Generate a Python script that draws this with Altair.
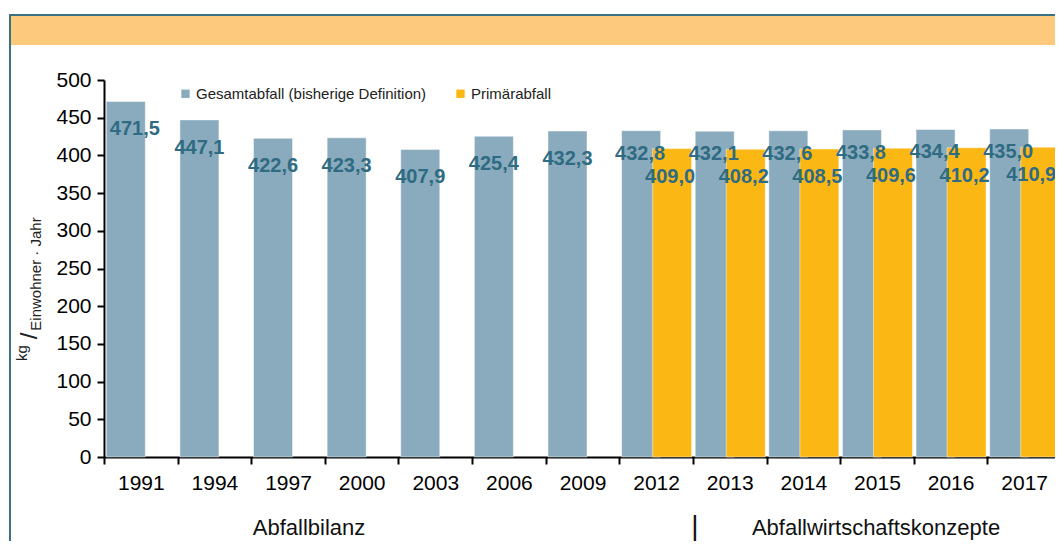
import altair as alt
import pandas as pd

years = ["1991", "1994", "1997", "2000", "2003", "2006", "2009",
         "2012", "2013", "2014", "2015", "2016", "2017"]
gesamt = [471.5, 447.1, 422.6, 423.3, 407.9, 425.4, 432.3,
          432.8, 432.1, 432.6, 433.8, 434.4, 435.0]
primaer_years = ["2012", "2013", "2014", "2015", "2016", "2017"]
primaer = [409.0, 408.2, 408.5, 409.6, 410.2, 410.9]
y_ticks = [0, 50, 100, 150, 200, 250, 300, 350, 400, 450, 500]

s_gesamt = "Gesamtabfall (bisherige Definition)"
s_primaer = "Primärabfall"


def fmt(v):
    return f"{v:.1f}".replace(".", ",")


df_g = pd.DataFrame({"year": years, "value": gesamt,
                     "label": [fmt(v) for v in gesamt],
                     "idx": list(range(len(years)))})
df_p = pd.DataFrame({"year": primaer_years, "value": primaer,
                     "label": [fmt(v) for v in primaer],
                     "idx": list(range(len(primaer_years)))})

W, H = 957, 377
FRAME = "#3b7285"
LABEL_C = "#2f6b82"
TICK_FONT = "Liberation Sans"
VAL_FONT = "Liberation Sans"

xscale = alt.Scale(paddingInner=0, paddingOuter=0)
yscale = alt.Scale(domain=[0, 500], nice=False)
cscale = alt.Scale(domain=[s_gesamt, s_primaer], range=["#8aabbd", "#fbb714"])

x_axis = alt.Axis(labelAngle=0, tickBand="extent", domainColor="black",
                  domainWidth=2, tickColor="black", tickWidth=2, tickSize=7,
                  labelFontSize=21, labelFont=TICK_FONT, labelColor="black",
                  labelPadding=8)
y_axis = alt.Axis(values=y_ticks, tickCount=11, grid=False, domainColor="black",
                  domainWidth=2, tickColor="black", tickWidth=2, tickSize=7,
                  labelFontSize=21, labelFont=TICK_FONT, labelColor="black",
                  labelPadding=6, labelOverlap=False, labelFlush=False)


def X():
    return alt.X("year:N", scale=xscale, sort=years, title=None, axis=x_axis)


def Y():
    return alt.Y("value:Q", scale=yscale, title=None, axis=y_axis)


legend = alt.Legend(title=None, orient="none", legendX=74, legendY=6, direction="horizontal",
                    symbolType="square", symbolSize=70, symbolStrokeWidth=0,
                    labelFontSize=15, labelFont=TICK_FONT, labelColor="#222222",
                    labelOffset=3, columnPadding=26, labelLimit=0)

# frame + header band
frame_df = pd.DataFrame({"a": [0]})
band = alt.Chart(frame_df).mark_rect(color="#fdca7d").encode(
    x=alt.value(-93), x2=alt.value(W + 2), y=alt.value(-64), y2=alt.value(-35))
left_line = alt.Chart(frame_df).mark_rule(color=FRAME, strokeWidth=2).encode(
    x=alt.value(-94), y=alt.value(-66), y2=alt.value(H + 100))
top_line = alt.Chart(frame_df).mark_rule(color=FRAME, strokeWidth=2).encode(
    x=alt.value(-95), x2=alt.value(W + 2), y=alt.value(-65))

bars_g = alt.Chart(df_g).mark_bar(width=39, xOffset=-15, stroke="white",
                                  strokeOpacity=0.45, strokeWidth=1).encode(
    x=X(), y=Y(),
    color=alt.Color("s:N", scale=cscale, legend=legend)
).transform_calculate(s=f"'{s_gesamt}'")

bars_p = alt.Chart(df_p).mark_bar(width=39, xOffset=16, stroke="white",
                                  strokeOpacity=0.45, strokeWidth=1).encode(
    x=X(), y=Y(),
    color=alt.Color("s:N", scale=cscale, legend=legend)
).transform_calculate(s=f"'{s_primaer}'")

txt_kw = dict(font=VAL_FONT, fontWeight="bold", fontSize=20, color=LABEL_C,
              baseline="middle", align="center")
lab_first = alt.Chart(df_g).mark_text(dx=-6, dy=28, **txt_kw).encode(
    x=X(), y=Y(), text="label:N"
).transform_filter("datum.idx == 0")
lab_early = alt.Chart(df_g).mark_text(dx=-15, dy=28, **txt_kw).encode(
    x=X(), y=Y(), text="label:N"
).transform_filter("datum.idx > 0 && datum.idx < 7")
lab_late = alt.Chart(df_g).mark_text(dx=-16, dy=23, **txt_kw).encode(
    x=X(), y=Y(), text="label:N"
).transform_filter("datum.idx >= 7")
lab_p = alt.Chart(df_p).mark_text(dx=14, dy=28, **txt_kw).encode(
    x=X(), y=Y(), text="label:N"
).transform_filter("datum.idx < 5")
lab_p_last = alt.Chart(df_p).mark_text(dx=7, dy=28, **txt_kw).encode(
    x=X(), y=Y(), text="label:N"
).transform_filter("datum.idx == 5")

# y-axis unit title
unit_kg = alt.Chart(pd.DataFrame({"t": ["kg"]})).mark_text(
    angle=270, fontSize=15, font=TICK_FONT, color="#222222", align="center",
    baseline="middle").encode(x=alt.value(-82), y=alt.value(273), text="t:N")
unit_sl = alt.Chart(pd.DataFrame({"t": ["/"]})).mark_text(
    angle=270, fontSize=24, font=TICK_FONT, color="#222222", align="center",
    baseline="middle").encode(x=alt.value(-74), y=alt.value(256), text="t:N")
unit_sub = alt.Chart(pd.DataFrame({"t": ["Einwohner · Jahr"]})).mark_text(
    angle=270, fontSize=15, font=TICK_FONT, color="#222222", align="center",
    baseline="middle").encode(x=alt.value(-68), y=alt.value(194), text="t:N")

# bottom group labels
bottom_kw = dict(fontSize=22, font=TICK_FONT, color="#111111", align="center",
                 baseline="middle")
b1 = alt.Chart(pd.DataFrame({"t": ["Abfallbilanz"]})).mark_text(**bottom_kw).encode(
    x=alt.value(205), y=alt.value(71 + H), text="t:N")
b2 = alt.Chart(pd.DataFrame({"t": ["|"]})).mark_text(fontSize=28, font=TICK_FONT,
                                                     color="#111111", align="center",
                                                     baseline="middle").encode(
    x=alt.value(591), y=alt.value(70 + H), text="t:N")
b3 = alt.Chart(pd.DataFrame({"t": ["Abfallwirtschaftskonzepte"]})).mark_text(**bottom_kw).encode(
    x=alt.value(772), y=alt.value(71 + H), text="t:N")

chart = alt.layer(
    band, left_line, top_line, bars_g, bars_p,
    lab_first, lab_early, lab_late, lab_p, lab_p_last,
    unit_kg, unit_sl, unit_sub, b1, b2, b3
).properties(
    width=W, height=H,
    autosize=alt.AutoSizeParams(type="none"),
    padding={"left": 96, "top": 72, "right": -6, "bottom": 84},
    background="white"
).configure_view(stroke=None)

chart.save("out.html", embed_options={"renderer": "svg", "actions": False})
